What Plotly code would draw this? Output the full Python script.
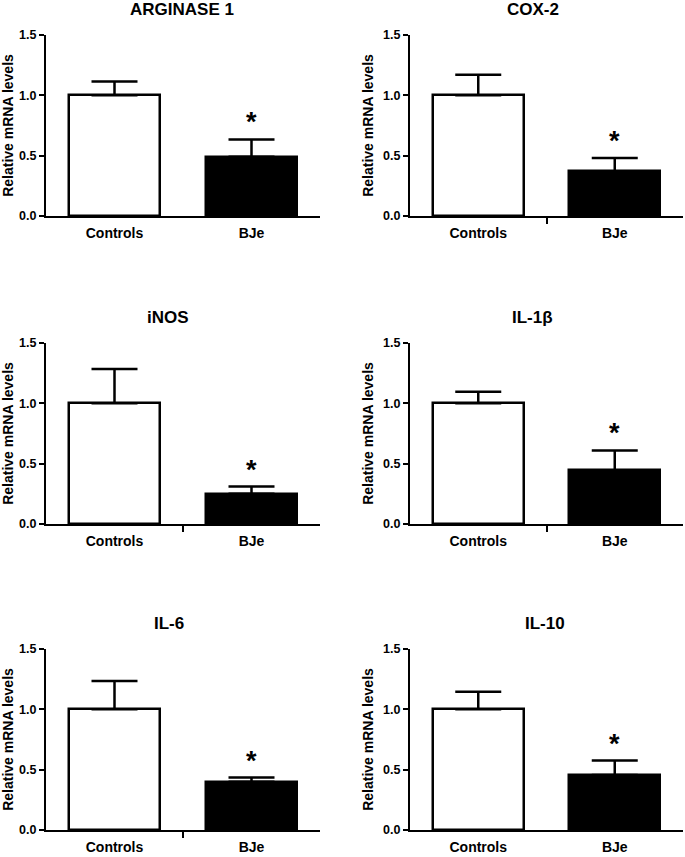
import plotly.graph_objects as go

groups = ["Controls", "BJe"]
genes = ["ARGINASE 1", "COX-2", "iNOS", "IL-1\u03b2", "IL-6", "IL-10"]
controls_mean = [1.0, 1.0, 1.0, 1.0, 1.0, 1.0]
controls_sem = [0.115, 0.17, 0.285, 0.095, 0.235, 0.145]
bje_mean = [0.49, 0.37, 0.25, 0.445, 0.40, 0.455]
bje_sem = [0.145, 0.11, 0.06, 0.165, 0.035, 0.12]
y_ticks = [0.0, 0.5, 1.0, 1.5]
y_tick_labels = ["0.0", "0.5", "1.0", "1.5"]

W, H = 685, 857
FONT = "Liberation Sans, Arial, sans-serif"

# panel geometry in screen pixels: (left, right, top, bottom)
col_x = [(46, 320), (410, 683)]
row_y = [(35, 216), (343, 524), (649, 830)]
title_cx = [182, 533, 168, 532, 169, 545]
mid_tick = [False, True, True, True, True, False]


def px(xp):
    return xp / W


def py(yp):
    return 1 - yp / H


fig = go.Figure()
for i, gene in enumerate(genes):
    r, c = divmod(i, 2)
    n = i + 1
    xa = "x" if n == 1 else f"x{n}"
    ya = "y" if n == 1 else f"y{n}"
    fig.add_trace(go.Bar(
        x=[0, 1], y=[controls_mean[i], bje_mean[i]],
        xaxis=xa, yaxis=ya, width=0.67,
        marker=dict(color=["white", "black"], line=dict(color="black", width=2.5)),
        error_y=dict(type="data", symmetric=False,
                     array=[controls_sem[i], bje_sem[i]], arrayminus=[0, 0],
                     color="black", thickness=2.5, width=23),
        showlegend=False, hoverinfo="skip",
    ))
    l, rr = col_x[c]
    t, b = row_y[r]
    xd = [px(l), px(rr)]
    yd = [py(b), py(t)]
    xkey = "xaxis" if n == 1 else f"xaxis{n}"
    ykey = "yaxis" if n == 1 else f"yaxis{n}"
    minor = dict(tickvals=[0.5], ticks="outside", ticklen=6, tickwidth=2,
                 tickcolor="black") if mid_tick[i] else dict(ticks="")
    fig.update_layout({
        xkey: dict(domain=xd, anchor=ya, range=[-0.5, 1.5], automargin=False,
                   tickvals=[0, 1], ticktext=groups, ticks="",
                   showline=True, linecolor="black", linewidth=2,
                   showgrid=False, zeroline=False, ticklabelstandoff=3,
                   tickfont=dict(family=FONT, size=14, color="black", weight="bold"),
                   minor=minor, fixedrange=True),
        ykey: dict(domain=yd, anchor=xa, range=[0, 1.5], automargin=False,
                   tickvals=y_ticks, ticktext=y_tick_labels,
                   ticks="outside", ticklen=5, tickwidth=2, tickcolor="black",
                   showline=True, linecolor="black", linewidth=2,
                   showgrid=False, zeroline=False,
                   tickfont=dict(family=FONT, size=12.5, color="black", weight="bold"),
                   title=dict(text="Relative mRNA levels", standoff=6,
                              font=dict(family=FONT, size=14, color="black", weight="bold")),
                   fixedrange=True),
    })
    fig.add_annotation(x=px(title_cx[i]), y=py(t - 26), xref="paper", yref="paper",
                       text=f"<b>{gene}</b>", showarrow=False, xanchor="center", yanchor="middle",
                       font=dict(family=FONT, size=17, color="black"))
    fig.add_annotation(x=1, y=bje_mean[i] + bje_sem[i], xref=xa, yref=ya,
                       text="<b>*</b>", showarrow=False, xanchor="center", yanchor="middle",
                       yshift=17, font=dict(family=FONT, size=27, color="black"))

fig.update_layout(width=W, height=H, margin=dict(l=0, r=0, t=0, b=0, autoexpand=False),
                  plot_bgcolor="white", paper_bgcolor="white", bargap=0)
fig.write_html("out.html", config={"displayModeBar": False},
               post_script="document.body.style.margin='0';document.body.style.overflow='hidden';")
